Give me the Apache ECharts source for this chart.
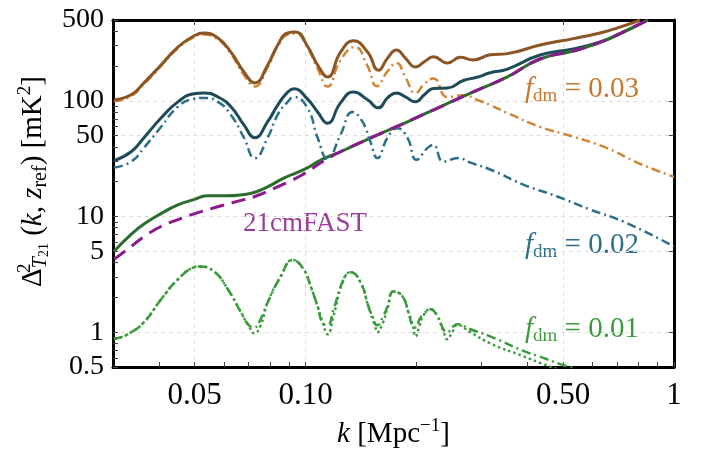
<!DOCTYPE html>
<html>
<head>
<meta charset="utf-8">
<script src="https://cdn.jsdelivr.net/npm/echarts@6/dist/echarts.min.js"></script>
<style>
html, body { margin: 0; padding: 0; background: #fff; }
#chart { width: 707px; height: 467px; }
</style>
</head>
<body>
<div id="chart"></div>
<script>
// f_dm = 0.03 : total (solid) and dark-matter part (dash-dot)
const kBrown = [0.0302, 0.0336, 0.0364, 0.0405, 0.045, 0.0497, 0.0529, 0.0578, 0.0627, 0.068, 0.0728, 0.0789, 0.084, 0.0894, 0.094, 0.1011, 0.1078, 0.1147, 0.1244, 0.1349, 0.1473, 0.1577, 0.1668, 0.1765, 0.1866, 0.1987, 0.21, 0.2223, 0.2425, 0.263, 0.285, 0.317, 0.353, 0.433, 0.533, 0.63, 0.72, 0.809]
const pBrown = [102, 113, 143, 204, 292, 363, 386, 349, 264, 178, 143, 204, 304, 386, 393, 298, 204, 161, 264, 330, 264, 184, 234, 275, 234, 196, 218, 240, 212, 238, 226, 250, 256, 304, 345, 386, 438, 500]

const kOrange = [0.0302, 0.0336, 0.0364, 0.0405, 0.045, 0.0497, 0.0529, 0.0578, 0.0627, 0.068, 0.0728, 0.0789, 0.084, 0.0894, 0.094, 0.1011, 0.1078, 0.1147, 0.1244, 0.136, 0.1473, 0.156, 0.1668, 0.1765, 0.1866, 0.1987, 0.21, 0.2223, 0.2425, 0.268, 0.292, 0.317, 0.353, 0.433, 0.533, 0.658, 0.8, 1.0]
const pOrange = [99, 110, 140, 200, 285, 355, 375, 340, 255, 168, 133, 196, 295, 375, 382, 290, 190, 133, 225, 292, 200, 134, 180, 212, 160, 117, 140, 156, 108, 112, 102, 92, 78.5, 59.5, 49, 39, 29, 22]

// f_dm = 0.02
const kTeal = [0.0302, 0.0336, 0.0364, 0.0405, 0.045, 0.0497, 0.0529, 0.0578, 0.0627, 0.068, 0.0728, 0.0789, 0.084, 0.0894, 0.0928, 0.1011, 0.1078, 0.1147, 0.1244, 0.1349, 0.1473, 0.1577, 0.1668, 0.1765, 0.1866, 0.1987, 0.21, 0.2223, 0.2425, 0.268, 0.292, 0.317, 0.353, 0.433, 0.533, 0.63, 0.72, 0.85]
const pTeal = [30.4, 36.3, 48, 71, 98, 115, 117, 108, 89, 62, 48, 66, 92, 119, 127, 104, 80, 64, 96, 119, 102, 87, 106, 117, 108, 98, 113, 128, 129, 150, 160, 175, 188, 249, 281, 323, 385, 500]

const kTealDD = [0.0302, 0.0336, 0.0364, 0.0405, 0.045, 0.0497, 0.0529, 0.0578, 0.0627, 0.068, 0.0728, 0.0789, 0.084, 0.0894, 0.0928, 0.1011, 0.1078, 0.1147, 0.1244, 0.1341, 0.1427, 0.150, 0.1567, 0.1668, 0.1775, 0.1889, 0.2, 0.214, 0.2223, 0.2366, 0.2599, 0.28, 0.317, 0.39, 0.482, 0.591, 0.728, 1.0]
const pTealDD = [26.5, 29.8, 39.3, 59.5, 89, 104, 106, 98, 75.6, 48, 32, 48, 76, 98, 108, 87, 48, 31.6, 51, 80, 66, 44, 32, 48, 58, 48, 31, 39, 41.6, 29.8, 32, 29.2, 25.5, 18.9, 14.9, 11.5, 9.06, 5.5]

// f_dm = 0.01 total and 21cmFAST reference
const kGreen = [0.0302, 0.0336, 0.0364, 0.0405, 0.045, 0.0497, 0.054, 0.061, 0.068, 0.0728, 0.079, 0.0875, 0.0988, 0.1106, 0.1244, 0.1529, 0.1889, 0.2321, 0.2853, 0.353, 0.433, 0.533, 0.63, 0.72, 0.85]
const pGreen = [5.0, 7.0, 8.6, 10.6, 12.6, 14.0, 15.1, 15.1, 15.5, 16.2, 18.1, 21.6, 25.4, 31, 36.3, 49, 65.9, 88.8, 119.6, 161, 230, 270, 320, 388, 500]

const kPurple = [0.0302, 0.0336, 0.0364, 0.0405, 0.045, 0.051, 0.058, 0.068, 0.0728, 0.082, 0.0915, 0.0969, 0.1012, 0.1135, 0.1244, 0.1529, 0.1889, 0.2321, 0.2853, 0.353, 0.433, 0.533, 0.63, 0.72, 0.85]
const pPurple = [4.26, 5.5, 6.7, 8.2, 9.4, 10.8, 12.2, 14.0, 14.9, 17.5, 20.5, 22.5, 24.5, 31, 36.3, 49, 65.9, 88.8, 119.6, 161, 230, 270, 320, 388, 500]

// f_dm = 0.01 dark-matter part, two variants
const kLow = [0.0302, 0.0329, 0.0364, 0.0405, 0.045, 0.0497, 0.0513, 0.0563, 0.0615, 0.0667, 0.0701, 0.0725, 0.0755, 0.0789, 0.0856, 0.0922, 0.0988, 0.1032, 0.1078, 0.1112, 0.1147, 0.1191, 0.1268, 0.1324, 0.1409, 0.1481, 0.1535, 0.1567, 0.162, 0.1668, 0.1732, 0.1832, 0.1901, 0.1955, 0.1987, 0.204, 0.2088, 0.2181, 0.228, 0.237, 0.2425, 0.25, 0.2581, 0.28, 0.317, 0.39, 0.4416, 0.491, 0.53]
const pLowDashDot = [0.87, 0.96, 1.22, 1.92, 2.86, 3.63, 3.7, 3.36, 2.35, 1.49, 1.15, 1.1, 1.3, 1.81, 3.04, 4.2, 3.49, 2.49, 1.67, 1.2, 1.15, 1.58, 2.86, 3.29, 2.7, 1.67, 1.2, 1.15, 1.35, 1.67, 2.25, 2.04, 1.49, 1.12, 1.1, 1.3, 1.43, 1.58, 1.37, 1.05, 1.0, 1.1, 1.17, 1.06, 0.92, 0.69, 0.6, 0.53, 0.49]
const pLowDotted = [0.87, 0.96, 1.22, 1.92, 2.86, 3.63, 3.7, 3.36, 2.35, 1.49, 1.13, 0.98, 1.15, 1.81, 3.04, 4.2, 3.49, 2.49, 1.67, 1.22, 0.96, 1.4, 2.86, 3.29, 2.7, 1.67, 1.25, 1.0, 1.2, 1.6, 2.25, 2.04, 1.49, 1.15, 0.92, 1.15, 1.4, 1.58, 1.37, 1.0, 0.87, 1.0, 1.15, 1.0, 0.8, 0.62, 0.53, 0.47, 0.44]

// axis ticks: labelled ticks, grid-line ticks and unlabelled minor ticks
const xTicks = [0.05, 0.1, 0.5, 1]
const xTickLabels = ['0.05', '0.10', '0.50', '1']
const xGrid = [0.05, 0.1, 0.5]
const xMinor = [0.04, 0.06, 0.07, 0.08, 0.09, 0.2, 0.3, 0.4, 0.6, 0.7, 0.8, 0.9]
const yTicks = [0.5, 1, 5, 10, 50, 100, 500]
const yTickLabels = ['0.5', '1', '5', '10', '50', '100', '500']
const yGrid = [1, 5, 10, 50, 100]
const yMinor = [0.6, 0.7, 0.8, 0.9, 2, 3, 4, 6, 7, 8, 9, 20, 30, 40, 60, 70, 80, 90, 200, 300, 400]

const serif = '"Liberation Serif", "DejaVu Serif", serif'

function pairs(ks, ps) {
	return ks.map(function (k, i) { return [k, ps[i]] })
}

function tickText(ticks, labels) {
	return function (v) {
		for (let i = 0; i < ticks.length; i++) {
			if (Math.abs(v - ticks[i]) < 1e-6 * ticks[i]) return labels[i]
		}
		return ''
	}
}

// log axis drawing one side of the frame
function makeAxis(pos, min, max, ticks) {
	return {
		type: 'log',
		logBase: 10,
		min: min,
		max: max,
		position: pos,
		axisLine: { show: true, onZero: false, lineStyle: { color: '#000', width: 3 } },
		axisTick: {
			show: true,
			inside: true,
			length: 5,
			customValues: ticks,
			lineStyle: { color: '#444', width: 1 }
		},
		axisLabel: { show: false },
		splitLine: { show: false },
		minorTick: { show: false },
		minorSplitLine: { show: false }
	}
}

// bottom: labels and all ticks; top: grid lines
let xMain = makeAxis('bottom', 0.03, 1, xTicks.concat(xMinor))
xMain.axisLabel = {
	show: true,
	customValues: xTicks,
	formatter: tickText(xTicks, xTickLabels),
	fontFamily: serif,
	fontSize: 31,
	color: '#000',
	margin: 13
}
xMain.name = '{i|k}{m| [Mpc}{sup|−1}{m|]}'
xMain.nameLocation = 'middle'
xMain.nameGap = 50
xMain.nameTextStyle = {
	rich: {
		i: { fontFamily: serif, fontStyle: 'italic', fontSize: 29, color: '#000', lineHeight: 34 },
		m: { fontFamily: serif, fontSize: 29, color: '#000', lineHeight: 34 },
		sup: { fontFamily: serif, fontSize: 19, color: '#000', verticalAlign: 'top', lineHeight: 34 }
	}
}
let xTop = makeAxis('top', 0.03, 1, xGrid)
xTop.splitLine = { show: true, lineStyle: { type: [4, 4], color: '#dddddd', width: 1 } }

let yMain = makeAxis('left', 0.5, 500, yTicks.concat(yMinor))
yMain.axisLabel = {
	show: true,
	customValues: yTicks,
	formatter: tickText(yTicks, yTickLabels),
	fontFamily: serif,
	fontSize: 28,
	color: '#000',
	margin: 9
}
yMain.name = '{m|Δ}{sup|2}{subi|T}{sub2|21}{m| (}{i|k}{m|, }{i|z}{sub|ref}{m|) [mK}{sup2|2}{m|]}'
yMain.nameLocation = 'middle'
yMain.nameRotate = 90
yMain.nameGap = 58
yMain.nameTextStyle = {
	padding: [0, 0, 0, 24],
	rich: {
		m: { fontFamily: serif, fontSize: 29, color: '#000', lineHeight: 36 },
		i: { fontFamily: serif, fontStyle: 'italic', fontSize: 29, color: '#000', lineHeight: 36 },
		sup: { fontFamily: serif, fontSize: 19, color: '#000', verticalAlign: 'top', width: 0, lineHeight: 36 },
		sup2: { fontFamily: serif, fontSize: 19, color: '#000', verticalAlign: 'top', lineHeight: 36 },
		subi: { fontFamily: serif, fontStyle: 'italic', fontSize: 20, color: '#000', verticalAlign: 'bottom', lineHeight: 20 },
		sub: { fontFamily: serif, fontSize: 20, color: '#000', verticalAlign: 'bottom', lineHeight: 20 },
		sub2: { fontFamily: serif, fontSize: 14, color: '#000', verticalAlign: 'bottom', lineHeight: 12 }
	}
}
let yRight = makeAxis('right', 0.5, 500, yGrid)
yRight.splitLine = { show: true, lineStyle: { type: [4, 4], color: '#dddddd', width: 1 } }

function line(name, data, color, width, type, z) {
	return {
		name: name,
		type: 'line',
		data: data,
		showSymbol: false,
		symbol: 'none',
		smooth: 0.5,
		clip: true,
		z: z,
		lineStyle: { color: color, width: width, type: type },
		emphasis: { disabled: true }
	}
}

function note(left, top, text, color) {
	return {
		type: 'text',
		left: left,
		top: top,
		style: {
			text: text,
			fill: color,
			rich: {
				f: { fontFamily: serif, fontStyle: 'italic', fontSize: 29, fill: color, lineHeight: 32 },
				d: { fontFamily: serif, fontSize: 19, fill: color, verticalAlign: 'bottom', lineHeight: 22 },
				v: { fontFamily: serif, fontSize: 29, fill: color, lineHeight: 32 }
			}
		}
	}
}

let myChart = echarts.init(document.getElementById('chart'), null, { renderer: 'canvas' })

let option = {
	animation: false,
	backgroundColor: '#fff',
	textStyle: { fontFamily: serif },
	grid: {
		left: 113,
		right: 33,
		top: 20,
		bottom: 100,
		show: false,
		containLabel: false,
		outerBoundsMode: 'none'
	},
	xAxis: [xMain, xTop],
	yAxis: [yMain, yRight],
	series: [
		line('fdm 0.03 dm', pairs(kOrange, pOrange), '#d08535', 2.5, [9, 4, 2, 4], 2),
		line('fdm 0.03', pairs(kBrown, pBrown), '#8b5524', 3, 'solid', 3),
		line('fdm 0.02', pairs(kTeal, pTeal), '#1d4b5a', 3, 'solid', 3),
		line('fdm 0.02 dm', pairs(kTealDD, pTealDD), '#2b7089', 2.5, [9, 4, 2, 4], 4),
		line('fdm 0.01 dm a', pairs(kLow, pLowDashDot), '#3a9b3a', 2.5, [9, 4, 2, 4], 2),
		line('fdm 0.01 dm b', pairs(kLow, pLowDotted), '#3a9b3a', 2.5, [2.5, 3], 2),
		line('fdm 0.01', pairs(kGreen, pGreen), '#2b6e2b', 3, 'solid', 3),
		line('21cmFAST', pairs(kPurple, pPurple), '#8b1a8e', 3, [14, 8], 5)
	],
	graphic: [
		note(525, 75, '{f|f}{d|dm}{v| = 0.03}', '#c8782e'),
		note(525, 231, '{f|f}{d|dm}{v| = 0.02}', '#2f6f87'),
		note(525, 315, '{f|f}{d|dm}{v| = 0.01}', '#3c9b3c'),
		{
			type: 'text',
			left: 243,
			top: 210,
			style: { text: '21cmFAST', fill: '#9b3d9b', font: '27px ' + serif }
		}
	]
}

myChart.setOption(option)
</script>
</body>
</html>
